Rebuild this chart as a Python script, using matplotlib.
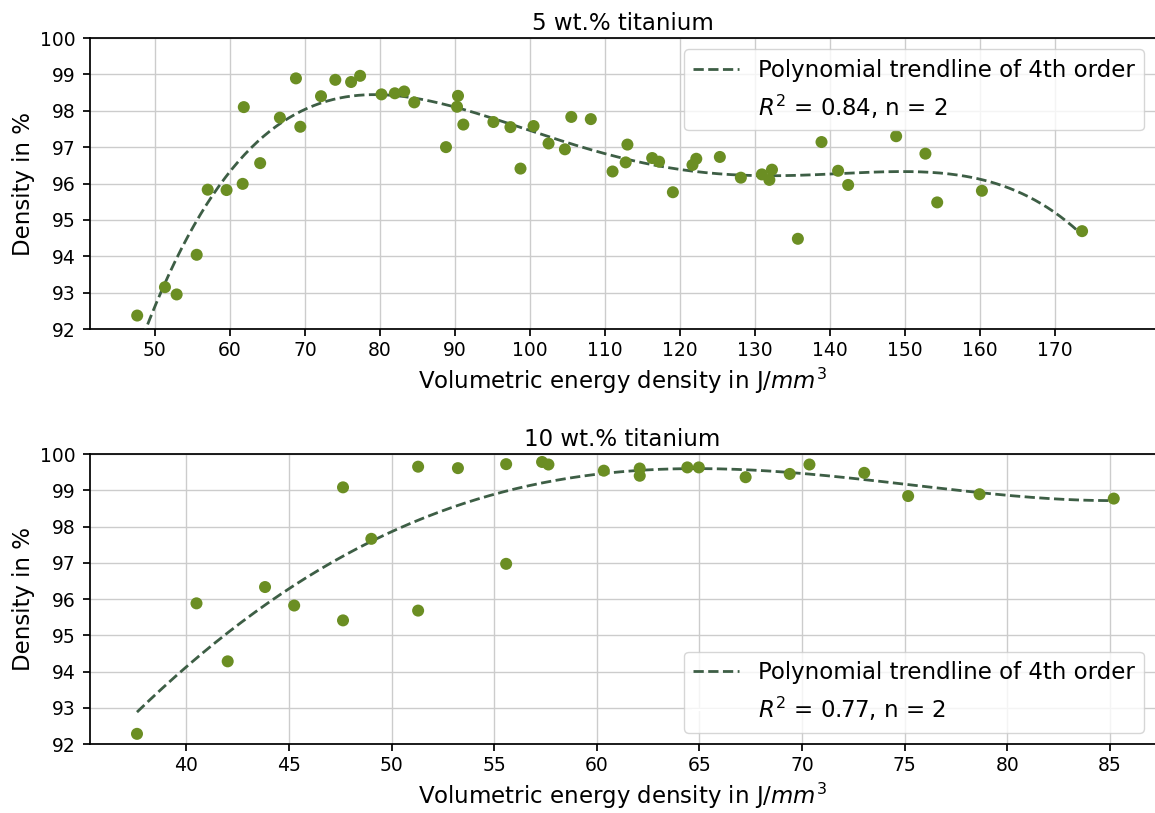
import numpy as np
import matplotlib
matplotlib.use('Agg')
import matplotlib.pyplot as plt

# 5 wt.% titanium
ti5_energy = [47.64, 51.34, 52.9, 55.57, 57.04, 59.55, 61.7, 61.85, 64.03, 66.66,
              68.8, 69.38, 72.14, 74.05, 76.15, 77.35, 80.2, 81.98, 83.23, 84.57,
              88.8, 90.4, 90.27, 91.11, 95.12, 97.39, 98.73, 100.47, 102.47, 104.65,
              105.5, 108.1, 111.0, 112.98, 112.75, 116.28, 117.2, 119.04, 121.65, 122.16,
              125.3, 128.1, 130.9, 131.9, 132.25, 135.7, 138.85, 141.06, 142.4, 148.8,
              152.7, 154.27, 160.23, 173.58]
ti5_density = [92.37, 93.15, 92.95, 94.04, 95.83, 95.82, 95.99, 98.10, 96.56, 97.81,
               98.89, 97.56, 98.40, 98.85, 98.79, 98.96, 98.45, 98.48, 98.53, 98.23,
               97.0, 98.41, 98.11, 97.62, 97.69, 97.55, 96.41, 97.58, 97.10, 96.94,
               97.83, 97.77, 96.33, 97.07, 96.58, 96.70, 96.6, 95.76, 96.51, 96.68,
               96.73, 96.16, 96.25, 96.1, 96.38, 94.48, 97.14, 96.35, 95.96, 97.30,
               96.82, 95.48, 95.8, 94.69]

# 10 wt.% titanium
ti10_energy = [37.59, 40.49, 42.01, 43.83, 45.25, 47.63, 47.63, 49.01, 51.29, 51.29,
               53.23, 55.58, 55.58, 57.33, 57.64, 60.34, 62.09, 62.09, 64.41, 64.97,
               67.25, 69.40, 70.36, 73.03, 75.17, 78.65, 85.19]
ti10_density = [92.28, 95.88, 94.28, 96.33, 95.82, 99.08, 95.41, 97.66, 99.65, 95.68,
                99.61, 99.72, 96.97, 99.78, 99.71, 99.54, 99.60, 99.40, 99.63, 99.63,
                99.36, 99.45, 99.71, 99.48, 98.84, 98.89, 98.77]

panels = [
    ('5 wt.% titanium', ti5_energy, ti5_density, '$R^2$ = 0.84, n = 2',
     (41.35, 183.3), np.arange(50, 171, 10), 'upper right'),
    ('10 wt.% titanium', ti10_energy, ti10_density, '$R^2$ = 0.77, n = 2',
     (35.3, 87.2), np.arange(40, 86, 5), 'lower right'),
]

dot_color = '#6b8e23'
trend_color = '#3d5e45'

fig = plt.figure(figsize=(11.55, 8.13), dpi=100)
boxes = [[90/1155, 1 - 329/813, 1065/1155, 291/813],
         [90/1155, 1 - 744/813, 1065/1155, 290/813]]

for box, (title, xs, ys, r2, xlim, xticks, loc) in zip(boxes, panels):
    ax = fig.add_axes(box)
    xs = np.array(xs)
    ys = np.array(ys)
    # 4th order polynomial trendline
    coef = np.polyfit(xs, ys, 4)
    xf = np.linspace(xs.min(), xs.max(), 300)
    ax.plot(xf, np.polyval(coef, xf), '--', color=trend_color, lw=2,
            label='Polynomial trendline of 4th order', zorder=3)
    ax.plot([], [], color='white', label=r2)
    ax.scatter(xs, ys, s=75, color=dot_color, edgecolors='none', zorder=4)

    ax.set_xlim(*xlim)
    ax.set_ylim(92, 100)
    ax.set_xticks(xticks)
    ax.set_yticks(np.arange(92, 101, 1))
    ax.grid(True, color='#cccccc', lw=1)
    ax.set_axisbelow(True)
    ax.spines['right'].set_visible(False)
    for s in ['left', 'top', 'bottom']:
        ax.spines[s].set_linewidth(1.25)
    ax.tick_params(labelsize=13.5, length=5, width=1.25)
    ax.tick_params(axis='y', pad=5)
    ax.set_title(title, fontsize=16.5)
    ax.set_xlabel('Volumetric energy density in J/$mm^3$', fontsize=16.5)
    ax.set_ylabel('Density in %', fontsize=16.5)
    ax.legend(loc=loc, fontsize=16.5)

fig.savefig('out.png', dpi=100)
